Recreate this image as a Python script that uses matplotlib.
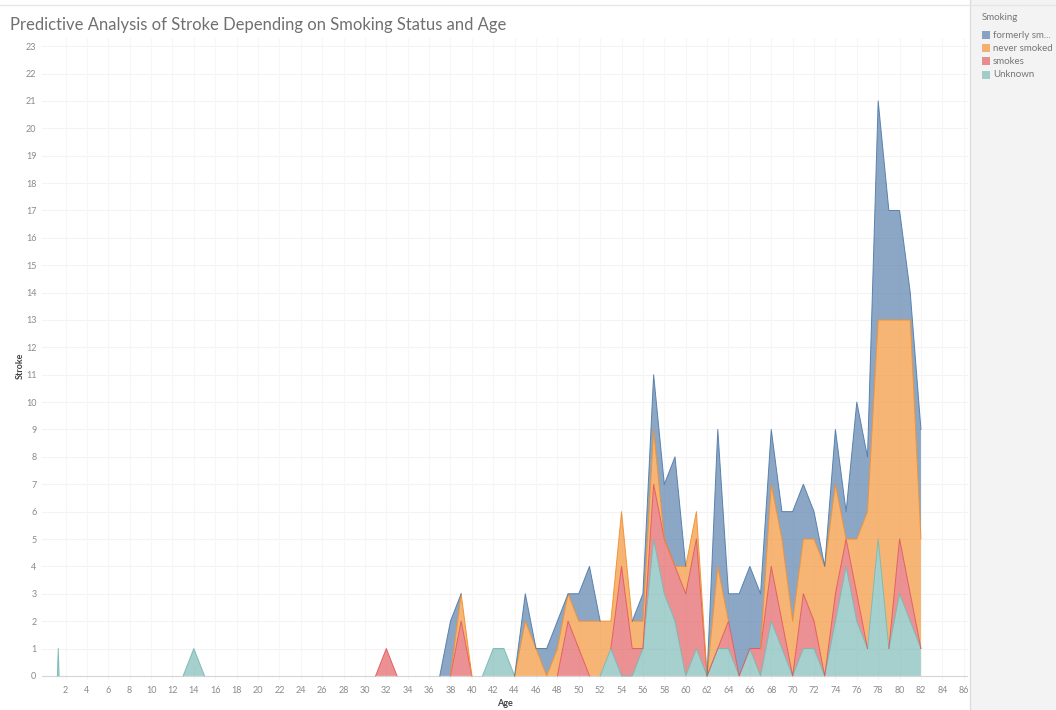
import matplotlib
matplotlib.use("Agg")
import matplotlib.pyplot as plt
import numpy as np
from matplotlib.patches import Rectangle
from matplotlib.lines import Line2D

plt.rcParams['font.family'] = ['Lato', 'DejaVu Sans']

# edades (años) y número de ictus por estado de fumador
ages = [0.08, 1.24, 1.32, 1.40] + list(range(2, 83))

# valores distintos de cero: edad -> cuenta
unknown_pts = {1.32: 1, 14: 1, 42: 1, 43: 1, 53: 1, 56: 1, 57: 5, 58: 3, 59: 2,
               61: 1, 63: 1, 64: 1, 66: 1, 68: 2, 69: 1, 71: 1, 72: 1, 74: 2,
               75: 4, 76: 2, 77: 1, 78: 5, 79: 1, 80: 3, 81: 2, 82: 1}
smokes_pts = {32: 1, 39: 2, 49: 2, 50: 1, 54: 4, 55: 1, 57: 2, 58: 2, 59: 2,
              60: 3, 61: 4, 64: 1, 67: 1, 68: 2, 69: 1, 71: 2, 72: 1, 74: 1,
              75: 1, 76: 1, 80: 2, 81: 1}
never_pts = {39: 1, 45: 2, 46: 1, 48: 1, 49: 1, 50: 1, 51: 2, 52: 2, 53: 1,
             54: 2, 55: 1, 56: 1, 57: 2, 60: 1, 61: 1, 63: 3, 68: 3, 69: 3,
             70: 2, 71: 2, 72: 3, 73: 4, 74: 4, 76: 2, 77: 5, 78: 8, 79: 12,
             80: 8, 81: 10, 82: 4}
formerly_pts = {38: 2, 45: 1, 47: 1, 48: 1, 50: 1, 51: 2, 56: 1, 57: 2, 58: 2,
                59: 4, 63: 5, 64: 1, 65: 3, 66: 3, 67: 2, 68: 2, 69: 1, 70: 4,
                71: 2, 72: 1, 74: 2, 75: 1, 76: 5, 77: 2, 78: 8, 79: 4, 80: 4,
                81: 1, 82: 4}

unknown = [unknown_pts.get(a, 0) for a in ages]
smokes = [smokes_pts.get(a, 0) for a in ages]
never = [never_pts.get(a, 0) for a in ages]
formerly = [formerly_pts.get(a, 0) for a in ages]

legend_labels = ["formerly sm...", "never smoked", "smokes", "Unknown"]
xticks = list(range(2, 88, 2))
yticks = list(range(0, 24))

c_blue = "#4e79a7"
c_orange = "#f28e2b"
c_red = "#e15759"
c_teal = "#76b7b2"
colores = [c_teal, c_red, c_orange, c_blue]

fig = plt.figure(figsize=(10.56, 7.10), dpi=100)
fig.patch.set_facecolor("white")

# panel gris de la leyenda
fig.patches.append(Rectangle((971/1056, 0), 85/1056, 1, transform=fig.transFigure,
                             facecolor="#f3f3f3", edgecolor="none", zorder=0))
fig.lines.append(Line2D([970/1056, 970/1056], [0, 1], transform=fig.transFigure,
                        color="#dcdcdc", lw=1))
fig.lines.append(Line2D([0, 1], [1-5/710, 1-5/710], transform=fig.transFigure,
                        color="#e6e6e6", lw=1))

ax = fig.add_axes([42/1056, 1-680/710, (968-42)/1056, (680-38)/710])
ax.set_facecolor("white")

ax.stackplot(ages, unknown, smokes, never, formerly,
             colors=colores, alpha=0.65, linewidth=0, zorder=3)

# bordes superiores de cada capa (sin dibujar sobre tramos de grosor cero)
series = [np.array(unknown), np.array(smokes), np.array(never), np.array(formerly)]
acum = np.cumsum(series, axis=0).astype(float)
for s, top, c in zip(series, acum, colores):
    nz = s > 0
    keep = nz | np.r_[nz[1:], False] | np.r_[False, nz[:-1]]
    top = np.where(keep, top, np.nan)
    ax.plot(ages, top, color=c, lw=0.7, alpha=0.9, zorder=4)

ax.set_xlim(-0.2, 86.4)
ax.set_ylim(-0.15, 23.3)
ax.set_xticks(xticks)
ax.set_yticks(yticks)
ax.tick_params(axis="both", length=0, labelsize=6.5, labelcolor="#8a8a8a", pad=4)
for g in yticks:
    ax.axhline(g, color="#f3f3f3", lw=0.8, zorder=0)
for g in xticks:
    ax.axvline(g, color="#f6f6f6", lw=0.8, zorder=0)
ax.axhline(0, color="#d5d5d5", lw=0.8, zorder=2)
for s in ax.spines.values():
    s.set_visible(False)

fig.text(10/1056, 1-25/710, "Predictive Analysis of Stroke Depending on Smoking Status and Age",
         fontsize=12, color="#707070", va="center", ha="left")
fig.text(20/1056, 1-366/710, "Stroke", rotation=90, fontsize=6.5, fontweight="bold",
         color="#444444", va="center", ha="center")
fig.text(505/1056, 1-703/710, "Age", fontsize=6.5, fontweight="bold",
         color="#444444", va="center", ha="center")

# leyenda
fig.text(982/1056, 1-17/710, "Smoking", fontsize=7, color="#777777", va="center")
for i, (lab, c) in enumerate(zip(legend_labels, [c_blue, c_orange, c_red, c_teal])):
    yy = 35 + i * 13.2
    fig.patches.append(Rectangle((982/1056, 1-(yy+4)/710), 8/1056, 8/710,
                                 transform=fig.transFigure, facecolor=c, alpha=0.65,
                                 edgecolor="none"))
    fig.text(993/1056, 1-yy/710, lab, fontsize=7, color="#777777", va="center")

fig.savefig("out.png", dpi=100)
